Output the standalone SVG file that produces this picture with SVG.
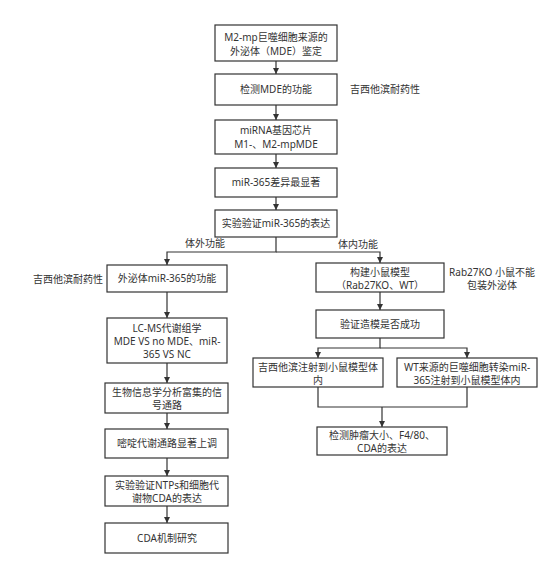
<svg xmlns="http://www.w3.org/2000/svg" width="554" height="569" viewBox="0 0 554 569">
<style>
.b{fill:#fff;stroke:#333;stroke-width:1.2}
.t{font-family:"Noto Sans","Noto Sans CJK SC",sans-serif;font-size:10px;fill:#333;text-anchor:middle}
.l{font-family:"Noto Sans","Noto Sans CJK SC",sans-serif;font-size:10px;fill:#333}
.c{fill:none;stroke:#333;stroke-width:1.2}
</style>
<defs>
<marker id="a" viewBox="0 0 10 10" refX="10" refY="5" markerWidth="6" markerHeight="6" markerUnits="userSpaceOnUse" orient="auto">
<path d="M0,0 L10,5 L0,10 z" fill="#333"/>
</marker>
</defs>
<g id="connectors">
<path class="c" d="M276,61 V74" marker-end="url(#a)"/>
<path class="c" d="M276,105 V120" marker-end="url(#a)"/>
<path class="c" d="M276,154 V168" marker-end="url(#a)"/>
<path class="c" d="M276,197 V210" marker-end="url(#a)"/>
<path class="c" d="M276,237 V252 H167 V265" marker-end="url(#a)"/>
<path class="c" d="M276,252 H380 V263" marker-end="url(#a)"/>
<path class="c" d="M167,292 V318" marker-end="url(#a)"/>
<path class="c" d="M167,363 V383" marker-end="url(#a)"/>
<path class="c" d="M167,413 V429" marker-end="url(#a)"/>
<path class="c" d="M167,458 V476" marker-end="url(#a)"/>
<path class="c" d="M167,506 V523" marker-end="url(#a)"/>
<path class="c" d="M380,292 V310" marker-end="url(#a)"/>
<path class="c" d="M380,338 V348 H318 V358" marker-end="url(#a)"/>
<path class="c" d="M380,348 H467 V358" marker-end="url(#a)"/>
<path class="c" d="M318,387 V407 H467 V387"/>
<path class="c" d="M382,407 V427" marker-end="url(#a)"/>
</g>
<g id="n1"><rect class="b" x="215" y="25" width="122" height="36"/><text class="t" x="276" y="41">M2-mp巨噬细胞来源的</text><text class="t" x="276" y="55">外泌体（MDE）鉴定</text></g>
<g id="n2"><rect class="b" x="215" y="74" width="122" height="31"/><text class="t" x="276" y="93">检测MDE的功能</text></g>
<text class="l" x="350" y="93">吉西他滨耐药性</text>
<g id="n3"><rect class="b" x="215" y="120" width="122" height="34"/><text class="t" x="276" y="134">miRNA基因芯片</text><text class="t" x="276" y="148">M1-、M2-mpMDE</text></g>
<g id="n4"><rect class="b" x="215" y="168" width="122" height="29"/><text class="t" x="276" y="186">miR-365差异最显著</text></g>
<g id="n5"><rect class="b" x="215" y="210" width="122" height="27"/><text class="t" x="276" y="227">实验验证miR-365的表达</text></g>
<text class="l" x="185" y="247">体外功能</text>
<text class="l" x="338" y="248">体内功能</text>
<g id="n6"><rect class="b" x="107" y="265" width="120" height="27"/><text class="t" x="167" y="282">外泌体miR-365的功能</text></g>
<text class="l" x="103" y="283" text-anchor="end">吉西他滨耐药性</text>
<g id="n7"><rect class="b" x="107" y="318" width="120" height="45"/><text class="t" x="167" y="332">LC-MS代谢组学</text><text class="t" x="167" y="345">MDE VS no MDE、miR-</text><text class="t" x="167" y="358">365 VS NC</text></g>
<g id="n8"><rect class="b" x="105" y="383" width="123" height="30"/><text class="t" x="167" y="396">生物信息学分析富集的信</text><text class="t" x="167" y="409">号通路</text></g>
<g id="n9"><rect class="b" x="105" y="429" width="123" height="29"/><text class="t" x="167" y="447">嘧啶代谢通路显著上调</text></g>
<g id="n10"><rect class="b" x="105" y="476" width="123" height="30"/><text class="t" x="167" y="489">实验验证NTPs和细胞代</text><text class="t" x="167" y="502">谢物CDA的表达</text></g>
<g id="n11"><rect class="b" x="105" y="523" width="123" height="30"/><text class="t" x="167" y="542">CDA机制研究</text></g>
<g id="n12"><rect class="b" x="316" y="263" width="128" height="29"/><text class="t" x="380" y="276">构建小鼠模型</text><text class="t" x="380" y="289">（Rab27KO、WT）</text></g>
<text class="t" x="492" y="276">Rab27KO 小鼠不能</text>
<text class="t" x="492" y="289">包装外泌体</text>
<g id="n13"><rect class="b" x="316" y="310" width="128" height="28"/><text class="t" x="380" y="328">验证造模是否成功</text></g>
<g id="n14"><rect class="b" x="253" y="358" width="130" height="29"/><text class="t" x="318" y="371">吉西他滨注射到小鼠模型体</text><text class="t" x="318" y="384">内</text></g>
<g id="n15"><rect class="b" x="397" y="358" width="140" height="29"/><text class="t" x="467" y="371">WT来源的巨噬细胞转染miR-</text><text class="t" x="467" y="384">365注射到小鼠模型体内</text></g>
<g id="n16"><rect class="b" x="317" y="427" width="130" height="28"/><text class="t" x="382" y="439">检测肿瘤大小、F4/80、</text><text class="t" x="382" y="452">CDA的表达</text></g>
</svg>
